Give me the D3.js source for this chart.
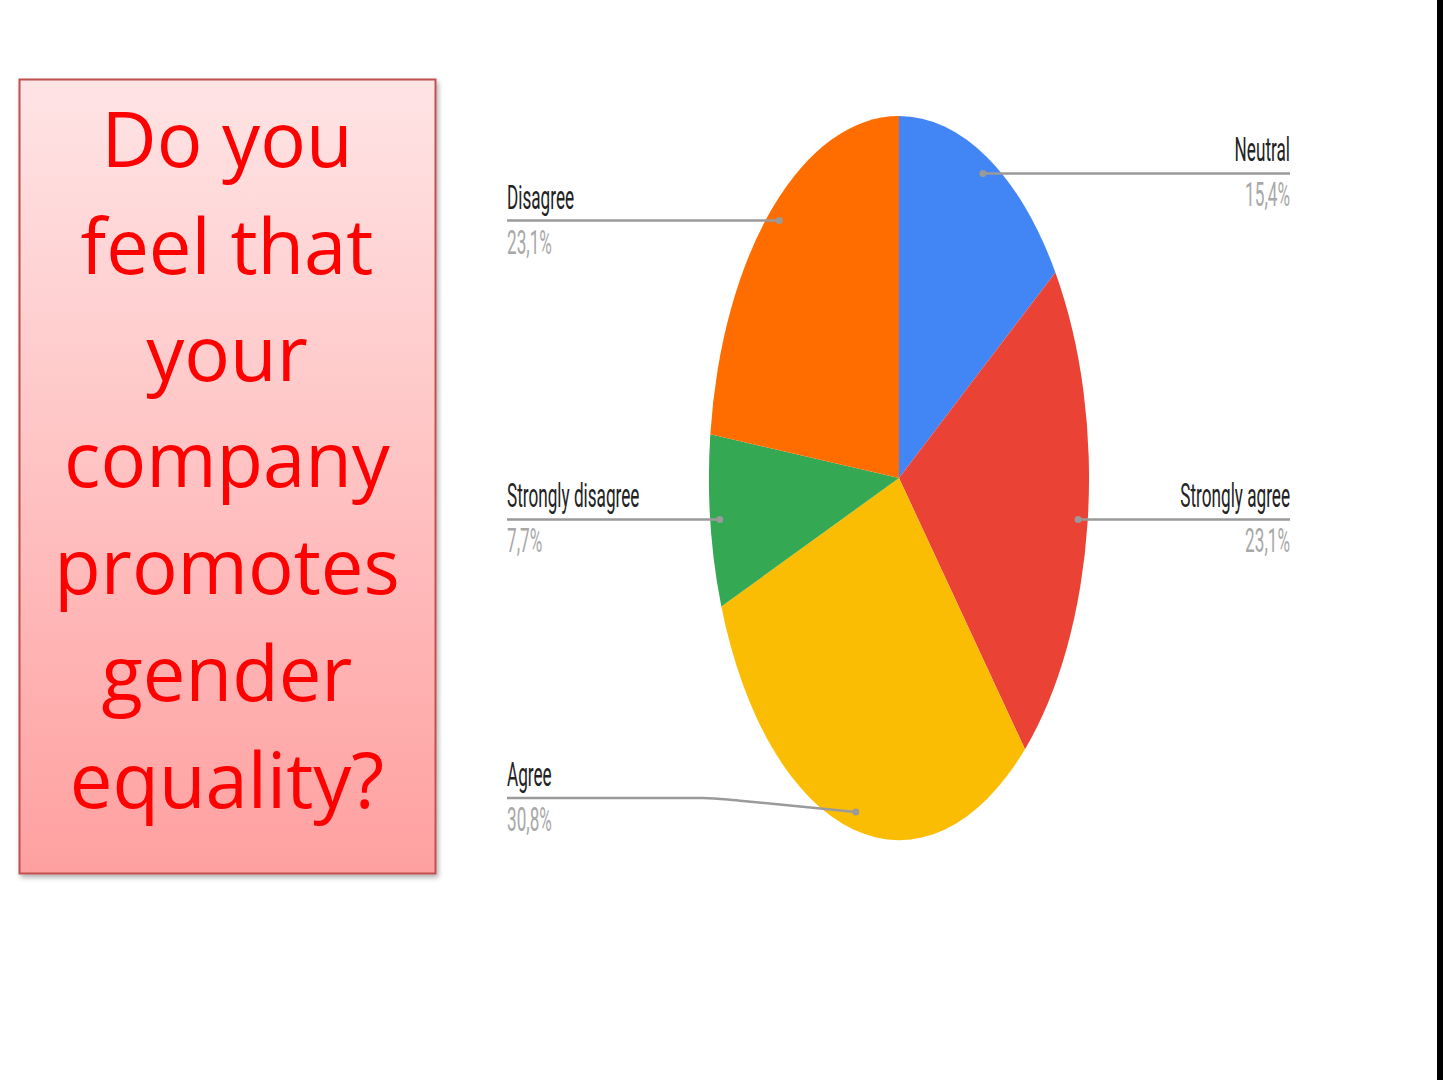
<!DOCTYPE html>
<html><head><meta charset="utf-8">
<script src="https://cdn.jsdelivr.net/npm/d3@7"></script>
<style>html,body{margin:0;padding:0;background:#fff;overflow:hidden}</style>
</head><body>
<svg id="c" width="1443" height="1080"></svg>
<script>
const categories = ["Neutral","Strongly agree","Agree","Strongly disagree","Disagree"];
const values = [15.4, 23.1, 30.8, 7.7, 23.1];
const pctLabels = ["15,4%","23,1%","30,8%","7,7%","23,1%"];
const colors = ["#4285F4","#EA4335","#FBBC04","#34A853","#FF6D01"];
const titleLines = ["Do you","feel that","your","company","promotes","gender","equality?"];

const svg = d3.select("#c");
const defs = svg.append("defs");
const grad = defs.append("linearGradient").attr("id","bg").attr("x1",0).attr("y1",0).attr("x2",0).attr("y2",1);
grad.append("stop").attr("offset","0%").attr("stop-color","#FFE4E5");
grad.append("stop").attr("offset","100%").attr("stop-color","#FFA0A0");
const f = defs.append("filter").attr("id","sh").attr("x","-10%").attr("y","-10%").attr("width","130%").attr("height","130%");
f.append("feDropShadow").attr("dx",2).attr("dy",3).attr("stdDeviation",2.5).attr("flood-color","#000").attr("flood-opacity",0.3);

svg.append("rect").attr("x",0).attr("y",0).attr("width",1443).attr("height",1080).attr("fill","#fff");
svg.append("rect").attr("x",1437).attr("y",0).attr("width",6).attr("height",1080).attr("fill","#000");

// Title box
svg.append("rect").attr("x",19.5).attr("y",79.5).attr("width",416).attr("height",794)
  .attr("fill","url(#bg)").attr("stroke","#C0504D").attr("stroke-width",2).attr("filter","url(#sh)");
svg.append("g").selectAll("text").data(titleLines).join("text")
  .attr("x",227).attr("y",(d,i)=>167+i*106.8)
  .attr("text-anchor","middle").attr("font-family","'Open Sans', sans-serif")
  .attr("font-size",76).attr("fill","#FF0000").text(d=>d);

// Pie
const cx = 899, cy = 478, rx = 190, ry = 362;
const pie = d3.pie().sort(null).value(d=>d)(values);
const arc = d3.arc().innerRadius(0).outerRadius(1);
const g = svg.append("g").attr("transform",`translate(${cx},${cy}) scale(${rx},${ry})`);
g.selectAll("path").data(pie).join("path").attr("d",arc).attr("fill",(d,i)=>colors[i]);

// Labels
const mid = d=> (d.startAngle+d.endAngle)/2;
const dotPos = d=> [cx + rx*0.95*Math.sin(mid(d)), cy - ry*0.95*Math.cos(mid(d))];
const leftX = 507, rightX = 1290;
const lineDy = [0,0,-14,0,0]; // label line offset from dot (layout)
const lab = svg.append("g");
pie.forEach((d,i)=>{
  const [px,py] = dotPos(d);
  const right = mid(d) < Math.PI;
  const ly = py + lineDy[i];
  const tx = right ? rightX : leftX;
  let path;
  if (lineDy[i] !== 0) {
    const bx = leftX + 196;
    path = `M${leftX},${ly} L${bx},${ly} C${bx+15},${ly} ${bx+25},${ly+2} ${bx+40},${ly+3} L${px},${py}`;
  } else {
    path = `M${tx},${ly} L${px},${py}`;
  }
  lab.append("path").attr("d",path).attr("fill","none").attr("stroke","#9a9a9a").attr("stroke-width",2.5);
  lab.append("circle").attr("cx",px).attr("cy",py).attr("r",3.5).attr("fill","#9a9a9a");
  const anchor = right ? "end" : "start";
  lab.append("text").attr("transform",`translate(${tx},${ly-12}) scale(0.52,1)`)
    .attr("text-anchor",anchor).attr("font-family","Roboto, sans-serif").attr("font-size",33)
    .attr("fill","#222").text(categories[i]);
  lab.append("text").attr("transform",`translate(${tx},${ly+33}) scale(0.52,1)`)
    .attr("text-anchor",anchor).attr("font-family","Roboto, sans-serif").attr("font-size",33)
    .attr("fill","#a8a8a8").text(pctLabels[i]);
});
</script>
</body></html>
